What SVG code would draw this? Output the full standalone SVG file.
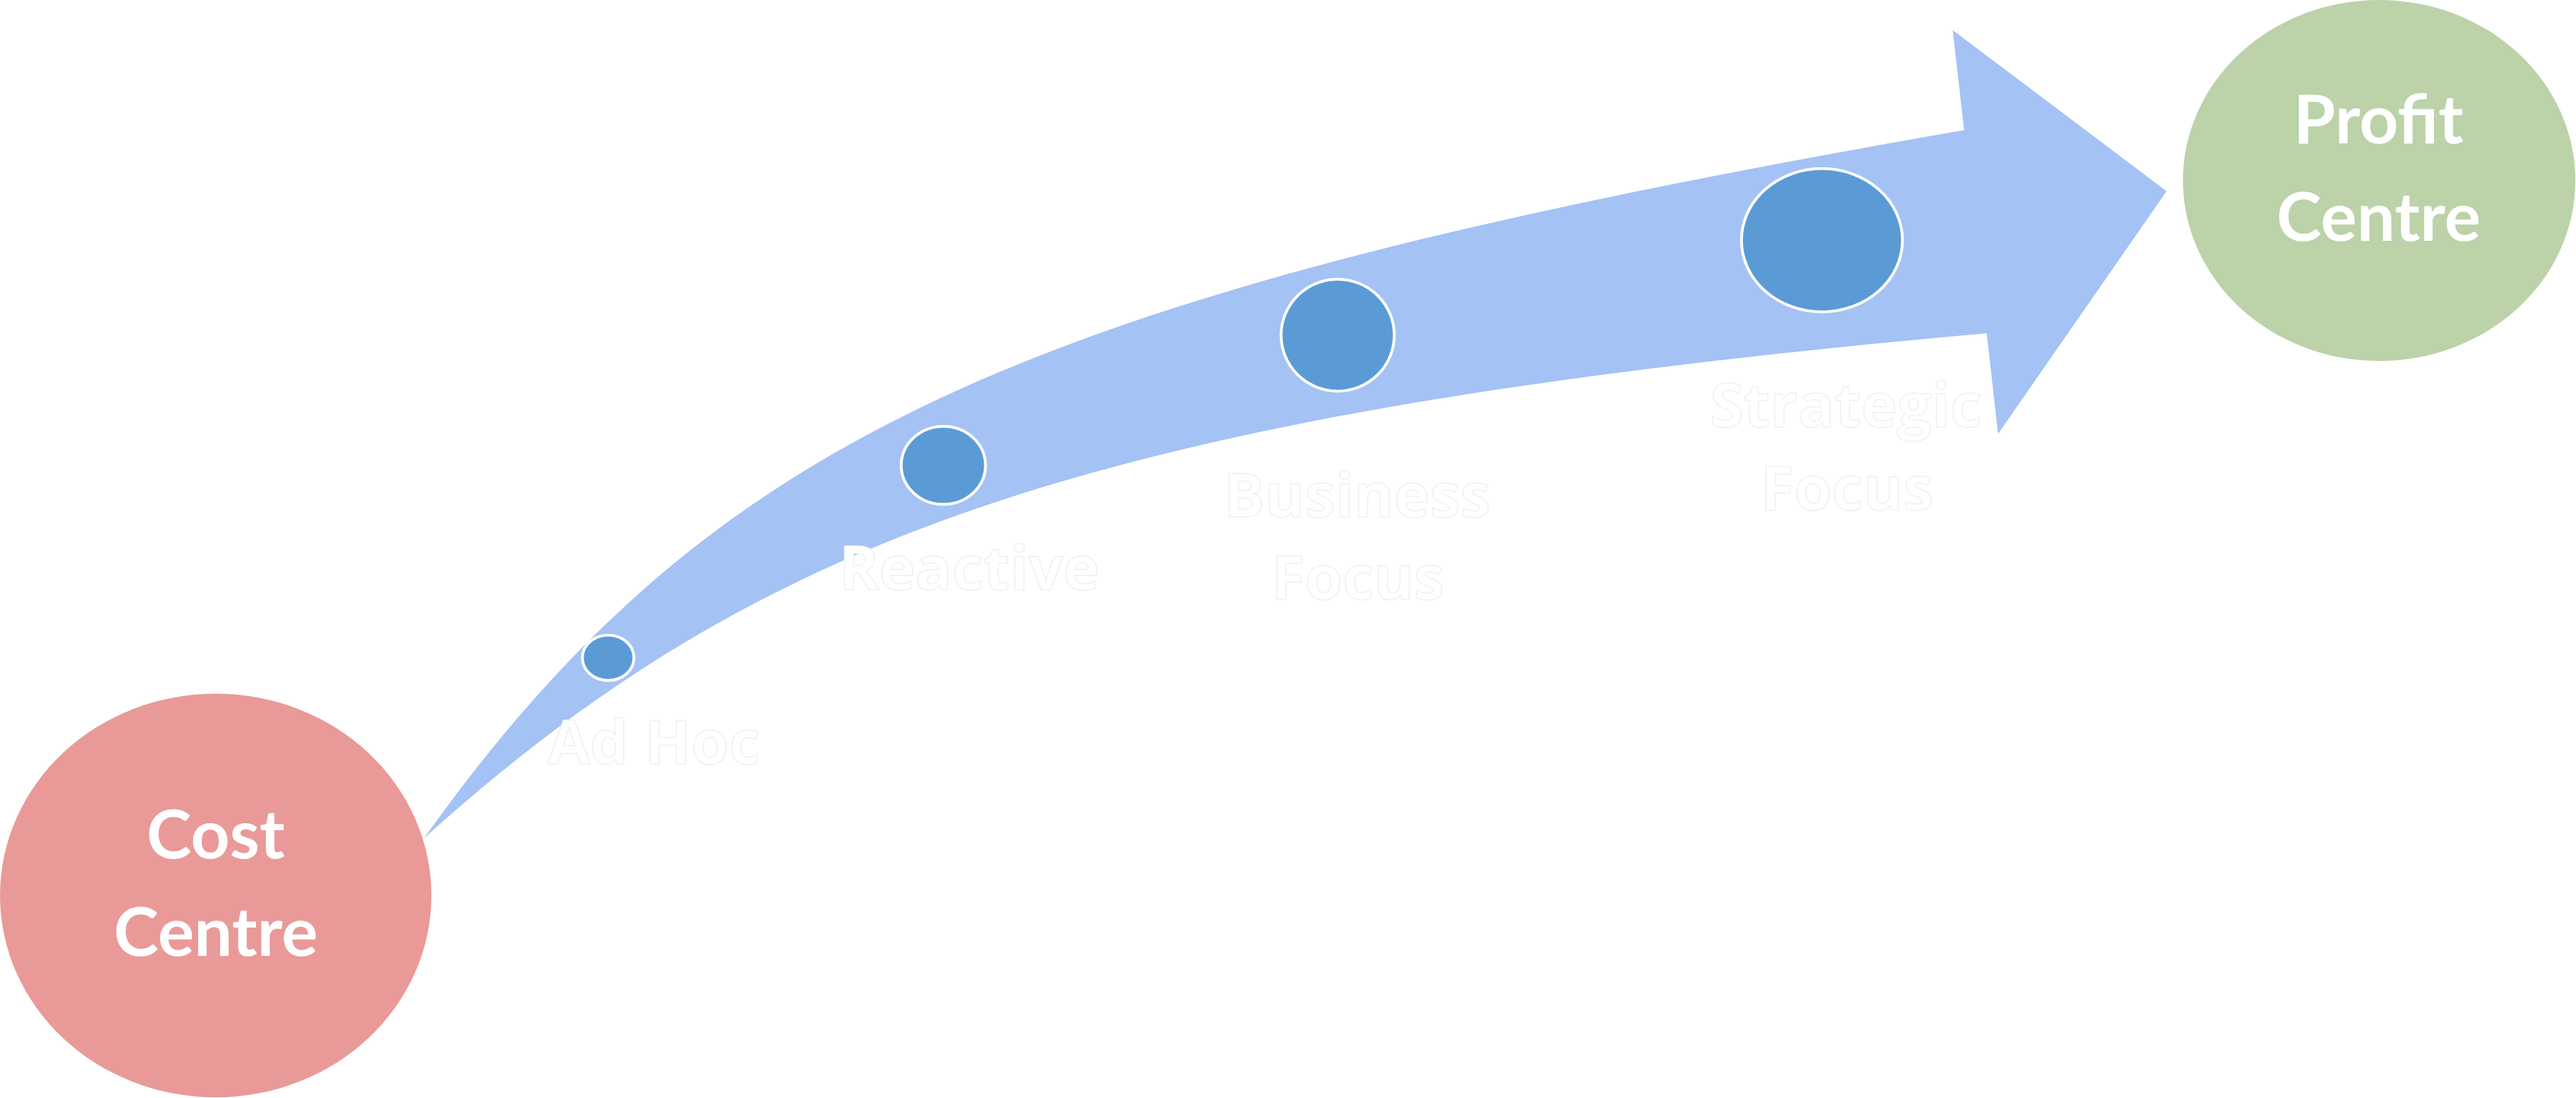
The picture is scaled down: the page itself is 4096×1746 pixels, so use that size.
<svg xmlns="http://www.w3.org/2000/svg" width="4096" height="1746" viewBox="0 0 4096 1746">
<style>
.bg{fill:#FFFFFF}
.arrow{fill:#A4C2F4}
.dot{fill:#5B9BD5;stroke:#FFFFFF;stroke-width:4.5}
.centre{font-family:Lato,"Open Sans","Liberation Sans",sans-serif;font-weight:700;font-size:108px;fill:#FFFFFF;text-anchor:middle}
.stage{font-family:"Open Sans","Noto Sans","Liberation Sans",sans-serif;font-weight:700;font-size:97px;fill:#FFFFFF;stroke:#ECEFF5;stroke-width:1.5;text-anchor:middle}
</style>
<rect class="bg" x="0" y="0" width="4096" height="1746"/>
<g id="connectors">
<path id="progress-arrow" class="arrow" d="M674,1333 C1133,692 1623,467 3123,207 L3105,48 L3445,304 L3177,690 L3159,530 C1745,656 1212,848 674,1333 Z"/>
</g>
<g id="cost-centre">
<ellipse cx="343" cy="1424" rx="343" ry="321" fill="#E99A98"/>
<text class="centre" x="343" y="1365">Cost</text>
<text class="centre" x="343" y="1520">Centre</text>
</g>
<g id="profit-centre">
<ellipse cx="3783" cy="287" rx="312" ry="287" fill="#BCD2A9"/>
<text class="centre" x="3782" y="228">Profit</text>
<text class="centre" x="3782" y="383">Centre</text>
</g>
<g id="stage-adhoc">
<ellipse class="dot" cx="967" cy="1046" rx="41" ry="36"/>
<text class="stage" x="1040" y="1215">Ad Hoc</text>
</g>
<g id="stage-reactive">
<ellipse class="dot" cx="1500" cy="740" rx="67" ry="62"/>
<text class="stage" x="1541" y="938">Reactive</text>
</g>
<g id="stage-business">
<ellipse class="dot" cx="2127" cy="533" rx="90" ry="89"/>
<text class="stage" x="2158" y="822">Business</text>
<text class="stage" x="2159" y="953">Focus</text>
</g>
<g id="stage-strategic">
<ellipse class="dot" cx="2897" cy="382" rx="128" ry="114"/>
<text class="stage" x="2935" y="679">Strategic</text>
<text class="stage" x="2937" y="811">Focus</text>
</g>
</svg>
